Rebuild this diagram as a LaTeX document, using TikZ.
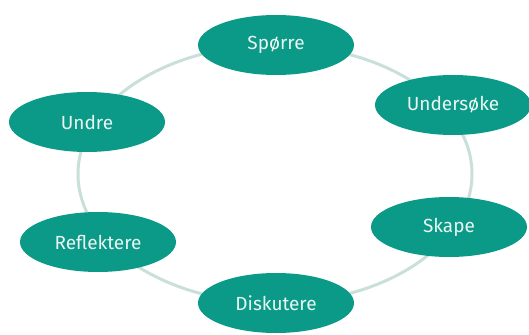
\documentclass[tikz,border=0pt]{standalone}
\usepackage{fontspec}
\setmainfont{Fira Sans}
\usetikzlibrary{shapes.geometric}
\definecolor{teal}{HTML}{0A9A87}
\definecolor{ring}{HTML}{C9E0DA}
\definecolor{txt}{HTML}{EAF6F3}
\tikzset{
  stage/.style={ellipse, fill=teal, text=txt, minimum width=156pt, minimum height=60pt, inner sep=0pt, font=\fontsize{19}{22}\selectfont},
  ringline/.style={draw=ring, line width=3pt}
}
\begin{document}
\begin{tikzpicture}[x=1pt,y=1pt]
\useasboundingbox (0,0) rectangle (529,-334);
\draw[ringline] (275,-174) ellipse [x radius=197, y radius=129];
\node[stage] (sporre) at (276,-45) {Spørre};
\node[stage] (undersoke) at (453,-105) {Undersøke};
\node[stage] (undre) at (87,-122) {Undre};
\node[stage] (reflektere) at (98,-242) {Reflektere};
\node[stage] (skape) at (449,-227) {Skape};
\node[stage] (diskutere) at (276,-303) {Diskutere};
\end{tikzpicture}
\end{document}
